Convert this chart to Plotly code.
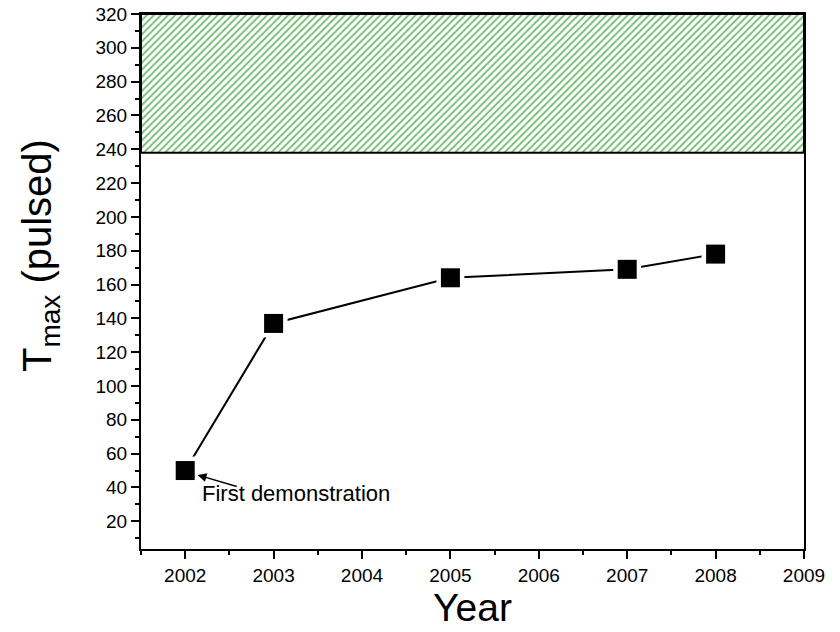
import plotly.graph_objects as go

years = [2002, 2003, 2005, 2007, 2008]
tmax = [50, 137, 164, 169, 178]

band_x = [2001.5, 2009, 2009, 2001.5, 2001.5]
band_y = [238, 238, 320, 320, 238]

x_ticks = [2002, 2003, 2004, 2005, 2006, 2007, 2008, 2009]
y_ticks = list(range(20, 321, 20))

font_family = "Liberation Sans, Arial, sans-serif"

fig = go.Figure()

fig.add_trace(go.Scatter(
    x=band_x, y=band_y, mode="lines", fill="toself",
    fillcolor="rgba(255,255,255,0)",
    fillpattern=dict(shape="/", fgcolor="#4aa84a", bgcolor="white",
                     size=5, solidity=0.4, fgopacity=0.75),
    line=dict(color="black", width=2), hoverinfo="skip", showlegend=False))

fig.add_trace(go.Scatter(
    x=years, y=tmax, mode="lines", line=dict(color="black", width=2),
    showlegend=False))
fig.add_trace(go.Scatter(
    x=years, y=tmax, mode="markers",
    marker=dict(symbol="square", size=28, color="white", line=dict(width=0)),
    showlegend=False))
fig.add_trace(go.Scatter(
    x=years, y=tmax, mode="markers",
    marker=dict(symbol="square", size=19, color="black", line=dict(width=0)),
    showlegend=False))

fig.add_annotation(x=2002.14, y=47.4, ax=2002.6, ay=40.3, xref="x", yref="y",
                   axref="x", ayref="y", text="", showarrow=True,
                   arrowhead=2, arrowsize=1.2, arrowwidth=1.5, arrowcolor="black")
fig.add_annotation(x=2002.17, y=36.2, xref="x", yref="y", text="First demonstration",
                   showarrow=False, xanchor="left", yanchor="middle",
                   font=dict(size=22, color="black", family=font_family))

fig.add_annotation(x=-0.152, y=0.548, xref="paper", yref="paper",
                   text="T<sub>max</sub> (pulsed)", textangle=-90, showarrow=False,
                   xanchor="center", yanchor="middle",
                   font=dict(size=40, color="black", family=font_family))

fig.update_xaxes(
    range=[2001.5, 2009], tickvals=x_ticks, ticktext=[str(v) for v in x_ticks],
    ticks="outside", ticklen=8, tickwidth=2, tickcolor="black",
    minor=dict(ticks="outside", ticklen=4, tickwidth=2, tickcolor="black", dtick=0.5),
    showline=True, linecolor="black", linewidth=2, mirror=True,
    showgrid=False, zeroline=False, automargin=False, ticklabeloverflow="allow",
    tickfont=dict(size=19, color="black", family=font_family),
    title=dict(text="Year", font=dict(size=39, color="black", family=font_family), standoff=2))

fig.update_yaxes(
    range=[3.6, 320], tickvals=y_ticks, ticktext=[str(v) for v in y_ticks],
    ticks="outside", ticklen=8, tickwidth=2, tickcolor="black",
    minor=dict(ticks="outside", ticklen=4, tickwidth=2, tickcolor="black", dtick=10, tick0=0),
    showline=True, linecolor="black", linewidth=2, mirror=True,
    showgrid=False, zeroline=False, automargin=False, ticklabeloverflow="allow",
    tickfont=dict(size=19, color="black", family=font_family))

fig.update_layout(
    width=840, height=632, paper_bgcolor="white", plot_bgcolor="white",
    margin=dict(l=141, r=36, t=14, b=83), showlegend=False)

fig.write_html("out.html", config={"displayModeBar": False},
               post_script="document.body.style.margin='0px';")
